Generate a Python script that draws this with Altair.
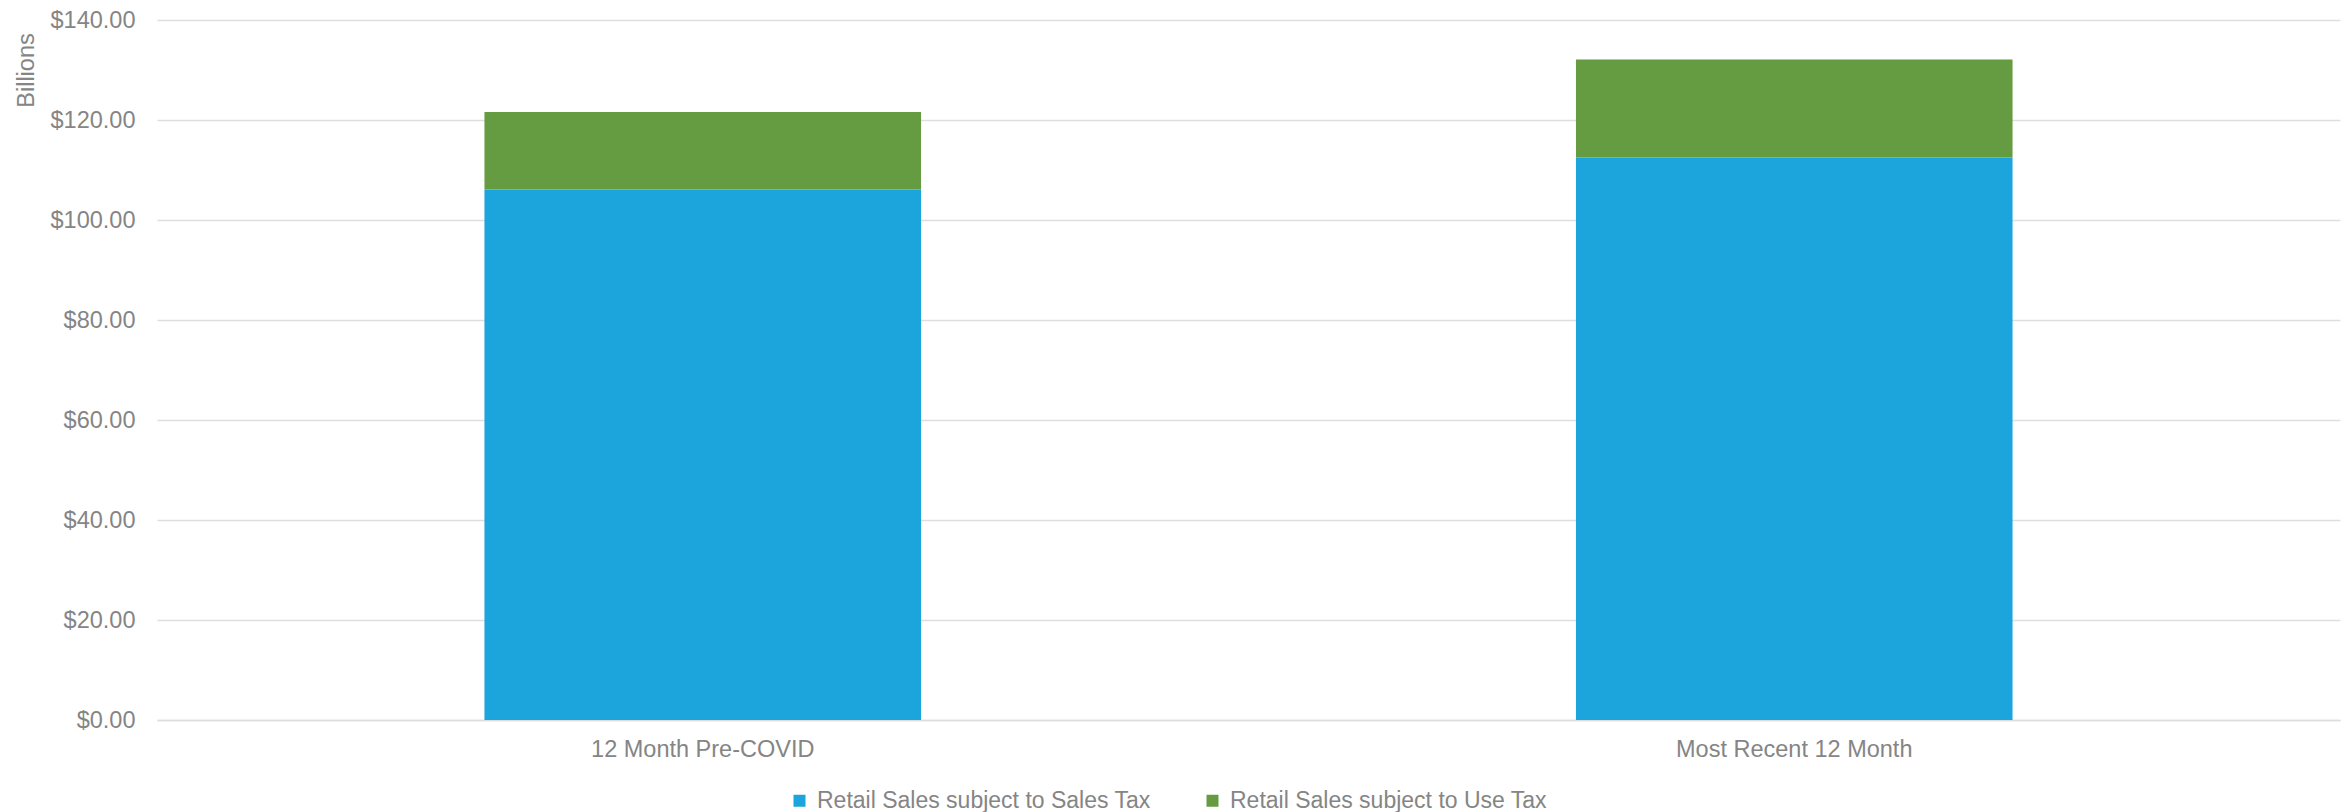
import altair as alt
import pandas as pd

categories = ["12 Month Pre-COVID", "Most Recent 12 Month"]
series_names = ["Retail Sales subject to Sales Tax", "Retail Sales subject to Use Tax"]
sales_tax = [106.1, 112.5]
use_tax = [15.5, 19.6]
colors = ["#1CA5DC", "#669C41"]

rows = []
for i, c in enumerate(categories):
    rows.append({"period": c, "series": series_names[0], "value": sales_tax[i], "ord": 0})
    rows.append({"period": c, "series": series_names[1], "value": use_tax[i], "ord": 1})
df = pd.DataFrame(rows)

FONT = "Liberation Sans"
GRAY = "#858585"
FS = 23.5

chart = alt.Chart(df).mark_bar().encode(
    x=alt.X("period:N", sort=categories,
            scale=alt.Scale(paddingInner=0.6, paddingOuter=0.3),
            axis=alt.Axis(title=None, labelAngle=0, ticks=False, domain=True,
                          domainColor="#dedede", domainWidth=1.5,
                          labelPadding=17, labelFontSize=FS, labelColor=GRAY,
                          labelFont=FONT, labelLimit=0)),
    y=alt.Y("value:Q", stack="zero",
            scale=alt.Scale(domain=[0, 140], nice=False),
            axis=alt.Axis(title="Billions", values=[0, 20, 40, 60, 80, 100, 120, 140],
                          format="$,.2f", ticks=False, domain=False,
                          gridColor="#dedede", gridWidth=1.5,
                          labelPadding=22, labelFontSize=FS, labelColor=GRAY,
                          labelFont=FONT, labelLimit=0,
                          titleFont=FONT, titleFontSize=FS, titleColor=GRAY,
                          titleFontWeight="normal", titleAngle=270,
                          titleAlign="center", titleBaseline="middle",
                          titleX=-131, titleY=50)),
    color=alt.Color("series:N",
                    scale=alt.Scale(domain=series_names, range=colors),
                    legend=alt.Legend(title=None, orient="none", direction="horizontal",
                                      legendX=631, legendY=769, padding=0,
                                      symbolType="square", symbolSize=144,
                                      symbolStrokeWidth=0,
                                      labelFont=FONT, labelFontSize=23,
                                      labelColor=GRAY, labelOffset=6,
                                      labelLimit=0, columnPadding=50)),
    order=alt.Order("ord:Q"),
).properties(
    width=2183, height=700,
    background="white",
    autosize=alt.AutoSizeParams(type="none"),
    padding={"left": 149, "top": 12, "right": 3, "bottom": 110},
).configure_view(strokeWidth=0, stroke="transparent")

chart.save("out.html", embed_options={"renderer": "svg", "actions": False})
